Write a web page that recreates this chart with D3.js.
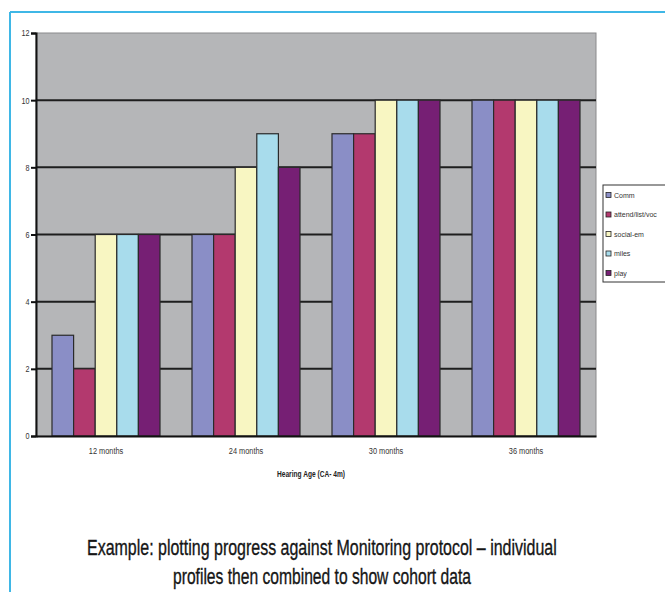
<!DOCTYPE html>
<html>
<head>
<meta charset="utf-8">
<script src="https://cdn.jsdelivr.net/npm/d3@7"></script>
<style>
  html, body { margin: 0; padding: 0; background: #ffffff; }
  svg { display: block; }
</style>
</head>
<body>
<svg id="chart" width="665" height="592"></svg>
<script>
// Hearing-age milestones per developmental area
const categories = ["12 months", "24 months", "30 months", "36 months"];
const seriesNames = ["Comm", "attend/list/voc", "social-em", "miles", "play"];
const comm      = [3, 6, 9, 10];
const attend    = [2, 6, 9, 10];
const socialEm  = [6, 8, 10, 10];
const miles     = [6, 9, 10, 10];
const play      = [6, 8, 10, 10];
const yTicks = [0, 2, 4, 6, 8, 10, 12];
const seriesColors = ["#8a8ec6", "#b3396e", "#f8f6c2", "#a8dcec", "#761f74"];
const axisTitle = "Hearing Age (CA- 4m)";
const captionLines = [
  "Example: plotting progress against Monitoring protocol  \u2013 individual",
  "profiles then combined to show cohort data"
];

const seriesValues = [comm, attend, socialEm, miles, play];

const svg = d3.select("#chart");
const font = "'Liberation Sans', Arial, sans-serif";

// draw a text squeezed horizontally to a given width, centred on cx
function condensed(parent, str, cx, baseline, size, width, attrs) {
  const g = parent.append("g");
  const t = g.append("text").attr("x", 0).attr("y", 0)
    .attr("font-family", font).attr("font-size", size).text(str);
  Object.entries(attrs || {}).forEach(([k, v]) => t.attr(k, v));
  const w = t.node().getComputedTextLength();
  const k = width / w;
  t.attr("x", -w / 2);
  g.attr("transform", `translate(${cx},${baseline}) scale(${k},1)`);
  return g;
}

// outer frame
svg.append("line").attr("x1", 10).attr("x2", 665).attr("y1", 12).attr("y2", 12)
  .attr("stroke", "#3fb7e6").attr("stroke-width", 2);
svg.append("line").attr("x1", 10).attr("x2", 10).attr("y1", 12).attr("y2", 592)
  .attr("stroke", "#3fb7e6").attr("stroke-width", 2);

const plot = { left: 36, right: 596, top: 33, bottom: 436 };

const x0 = d3.scaleBand().domain(categories).range([plot.left, plot.right]).paddingInner(0).paddingOuter(0);
const x1 = d3.scaleBand().domain(seriesNames).range([16, x0.bandwidth() - 16]).padding(0);
const y = d3.scaleLinear().domain([0, 12]).range([plot.bottom, plot.top]);

// plot background
svg.append("rect").attr("x", plot.left).attr("y", plot.top)
  .attr("width", plot.right - plot.left).attr("height", plot.bottom - plot.top)
  .attr("fill", "#b5b6b8").attr("stroke", "#8a8a8c").attr("stroke-width", 1);

// gridlines
svg.append("g").selectAll("line").data(yTicks.filter(d => d > 0 && d < 12)).join("line")
  .attr("x1", plot.left).attr("x2", plot.right)
  .attr("y1", d => y(d)).attr("y2", d => y(d))
  .attr("stroke", "#1e1e1e").attr("stroke-width", 2);

// bars
const groups = svg.append("g").selectAll("g").data(categories).join("g")
  .attr("transform", d => `translate(${x0(d)},0)`);
groups.selectAll("rect")
  .data((c, ci) => seriesNames.map((s, si) => ({ s, si, v: seriesValues[si][ci] })))
  .join("rect")
  .attr("x", d => x1(d.s))
  .attr("y", d => y(d.v))
  .attr("width", x1.bandwidth())
  .attr("height", d => y(0) - y(d.v))
  .attr("fill", d => seriesColors[d.si])
  .attr("stroke", "#2a2a2a").attr("stroke-width", 1.2);

// y axis
const yAxis = svg.append("g").attr("transform", `translate(${plot.left},0)`)
  .call(d3.axisLeft(y).tickValues(yTicks).tickSize(5).tickPadding(3).tickFormat(d3.format("d")));
yAxis.select(".domain").attr("stroke", "#111").attr("stroke-width", 2);
yAxis.selectAll(".tick line").attr("stroke", "#111").attr("stroke-width", 2);
yAxis.selectAll("text").attr("font-family", font).attr("font-size", 9).attr("fill", "#333")
  .attr("transform", "scale(0.8,1)");

// x axis
const xAxis = svg.append("g").attr("transform", `translate(0,${plot.bottom})`)
  .call(d3.axisBottom(x0).tickSize(0).tickPadding(12));
xAxis.select(".domain").attr("stroke", "#111").attr("stroke-width", 2);
xAxis.selectAll("text").attr("font-family", font).attr("font-size", 9).attr("fill", "#333")
  .attr("transform", "scale(0.82,1)")
  .attr("x", function () { return 0; });
// keep condensed category labels centred on their bands
xAxis.selectAll(".tick").each(function () {
  const t = d3.select(this);
  const tr = t.attr("transform");
  const m = /translate\(([^,]+),/.exec(tr);
  const cx = +m[1];
  t.select("text").attr("transform", `translate(0,0) scale(0.82,1)`);
  t.attr("transform", `translate(${cx},0)`);
});

condensed(svg, axisTitle, 311, 477, 8.5, 68, { "font-weight": "bold", fill: "#222" });

// legend
const legend = svg.append("g");
legend.append("rect").attr("x", 603).attr("y", 185).attr("width", 70).attr("height", 97)
  .attr("fill", "#ffffff").attr("stroke", "#333").attr("stroke-width", 1);
const legendRows = legend.selectAll("g").data(seriesNames).join("g")
  .attr("transform", (d, i) => `translate(606,${195 + i * 19.5})`);
legendRows.append("rect").attr("x", 0).attr("y", -2.5).attr("width", 5).attr("height", 5)
  .attr("fill", (d, i) => seriesColors[i]).attr("stroke", "#222").attr("stroke-width", 0.8);
legendRows.append("text").attr("x", 8).attr("y", 2.5)
  .attr("font-family", font).attr("font-size", 7).attr("fill", "#333")
  .attr("transform", "scale(1,1)")
  .text(d => d);

// caption
captionLines.forEach((line, i) => {
  condensed(svg, line, 322, 555 + i * 29, 22, i === 0 ? 470 : 298,
    { fill: "#151515", stroke: "#151515", "stroke-width": 0.35 });
});
</script>
</body>
</html>
